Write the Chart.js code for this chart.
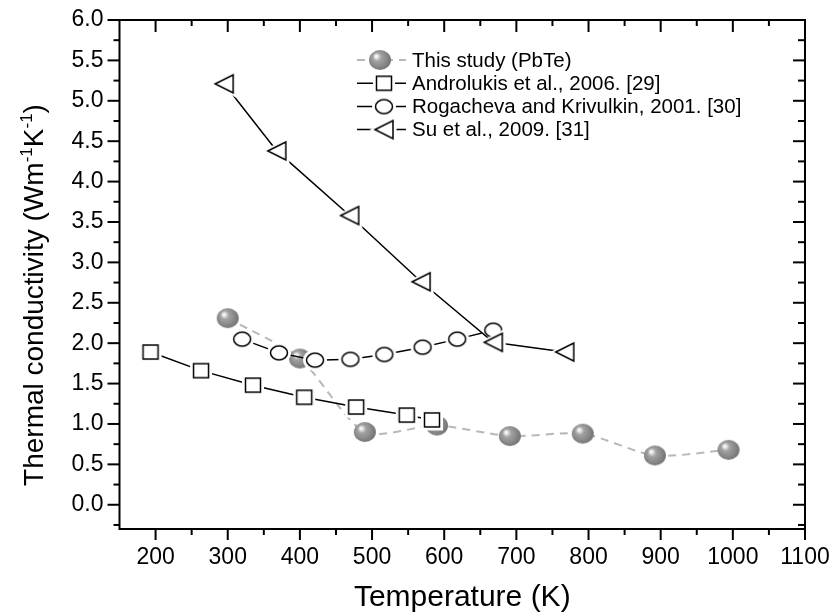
<!DOCTYPE html>
<html><head><meta charset="utf-8">
<script src="https://cdn.jsdelivr.net/npm/chart.js@4.4.1/dist/chart.umd.min.js"></script>
<style>html,body{margin:0;padding:0;background:#fff;}#wrap{width:837px;height:615px;}</style>
</head><body><div id="wrap"><canvas id="c" width="837" height="615"></canvas></div>
<script>
// ---- data ----
const seriesNames = ['This study (PbTe)', 'Androlukis et al., 2006. [29]', 'Rogacheva and Krivulkin, 2001. [30]', 'Su et al., 2009. [31]'];
const studyT = [300, 400, 490, 590, 691, 792, 892, 994];
const studyK = [2.31, 1.81, 0.90, 0.98, 0.85, 0.88, 0.61, 0.68];
const androT = [193, 263, 335, 406, 478, 548, 583];
const androK = [1.89, 1.66, 1.48, 1.33, 1.21, 1.11, 1.05];
const rogT = [320, 371, 421, 470, 517, 570, 618, 668];
const rogK = [2.05, 1.88, 1.79, 1.80, 1.86, 1.95, 2.05, 2.16];
const suT = [295, 368, 469, 568, 668, 767];
const suK = [5.21, 4.38, 3.58, 2.76, 2.01, 1.89];
const xTicks = [200, 300, 400, 500, 600, 700, 800, 900, 1000, 1100];
const yTicks = [0.0, 0.5, 1.0, 1.5, 2.0, 2.5, 3.0, 3.5, 4.0, 4.5, 5.0, 5.5, 6.0];
const xTitle = 'Temperature (K)';
const yTitleParts = [['Thermal conductivity (Wm', false], ['-1', true], ['K', false], ['-1', true], [')', false]];

const FONT = "'Liberation Sans', Arial, sans-serif";

// ---- marker images ----
function mk(w, h) { const c = document.createElement('canvas'); c.width = w; c.height = h; return c; }
function shapePath(ctx, kind, cx, cy, grow) {
  ctx.beginPath();
  if (kind === 'square') { ctx.rect(cx - 7.5 - grow, cy - 7 - grow, 15 + 2 * grow, 14 + 2 * grow); }
  else if (kind === 'circle') { ctx.ellipse(cx, cy, 8.5 + grow, 7 + grow, 0, 0, Math.PI * 2); }
  else if (kind === 'tri') {
    ctx.moveTo(cx - 9 - grow * 1.6, cy);
    ctx.lineTo(cx + 9 + grow, cy - 9 - grow * 1.4);
    ctx.lineTo(cx + 9 + grow, cy + 9 + grow * 1.4);
    ctx.closePath();
  }
}
function makeOpen(kind) {
  const c = mk(34, 34), ctx = c.getContext('2d');
  ctx.fillStyle = '#fff';
  shapePath(ctx, kind, 17, 17, 3.5); ctx.fill();
  shapePath(ctx, kind, 17, 17, 0);
  ctx.fill(); ctx.lineWidth = 1.5; ctx.strokeStyle = '#000'; ctx.lineJoin = 'miter'; ctx.stroke();
  return c;
}
function makeSphere() {
  const c = mk(26, 24), ctx = c.getContext('2d');
  const cx = 13, cy = 12;
  const g = ctx.createRadialGradient(cx - 4, cy - 4, 0, cx - 1, cy - 1, 12);
  g.addColorStop(0, '#ffffff');
  g.addColorStop(0.12, '#ececec');
  g.addColorStop(0.35, '#a2a2a2');
  g.addColorStop(0.7, '#8a8a8a');
  g.addColorStop(1, '#727272');
  ctx.fillStyle = g;
  ctx.beginPath(); ctx.ellipse(cx, cy, 11, 10, 0, 0, Math.PI * 2); ctx.fill();
  return c;
}
const sphereImg = makeSphere(), squareImg = makeOpen('square'), circleImg = makeOpen('circle'), triImg = makeOpen('tri');

function pts(xs, ys) { return xs.map((x, i) => ({ x: x, y: ys[i] })); }

// ---- frame, minor ticks, titles, legend ----
const decor = {
  id: 'decor',
  afterDraw(chart) {
    const ctx = chart.ctx, a = chart.chartArea, xs = chart.scales.x, ys = chart.scales.y;
    ctx.save();
    ctx.strokeStyle = '#000'; ctx.lineWidth = 2;
    ctx.strokeRect(a.left, a.top, a.right - a.left, a.bottom - a.top);
    for (let v = 200; v <= 1100; v += 50) {
      const px = xs.getPixelForValue(v), major = v % 100 === 0;
      ctx.beginPath(); ctx.moveTo(px, a.bottom); ctx.lineTo(px, a.bottom + (major ? 11 : 6)); ctx.stroke();
      ctx.beginPath(); ctx.moveTo(px, a.top); ctx.lineTo(px, a.top + (major ? 12 : 6)); ctx.stroke();
    }
    for (let k = -1; k <= 24; k++) {
      const v = k * 0.25, py = ys.getPixelForValue(v), major = k % 2 === 0;
      ctx.beginPath(); ctx.moveTo(a.left, py); ctx.lineTo(a.left - (major ? 12 : 6), py); ctx.stroke();
      ctx.beginPath(); ctx.moveTo(a.right, py); ctx.lineTo(a.right - (major ? 12 : 7), py); ctx.stroke();
    }
    ctx.fillStyle = '#000';
    ctx.font = '30px ' + FONT; ctx.textAlign = 'center'; ctx.textBaseline = 'alphabetic';
    ctx.fillText(xTitle, (a.left + a.right) / 2, 606);
    ctx.save();
    ctx.translate(43, 295); ctx.rotate(-Math.PI / 2);
    let total = 0;
    const widths = yTitleParts.map(p => { ctx.font = (p[1] ? '17px ' : '28px ') + FONT; const w = ctx.measureText(p[0]).width; total += w; return w; });
    let x0 = -total / 2;
    ctx.textAlign = 'left';
    yTitleParts.forEach((p, i) => { ctx.font = (p[1] ? '17px ' : '28px ') + FONT; ctx.fillText(p[0], x0, p[1] ? -11 : 0); x0 += widths[i]; });
    ctx.restore();
    const rows = [60, 83.3, 106.6, 129.6];
    const imgs = [sphereImg, squareImg, circleImg, triImg];
    ctx.font = '20.5px ' + FONT; ctx.textAlign = 'left'; ctx.textBaseline = 'middle';
    rows.forEach((y, i) => {
      ctx.save();
      if (i === 0) { ctx.strokeStyle = '#b8b8b8'; ctx.setLineDash([8, 6]); ctx.lineWidth = 2; }
      else { ctx.strokeStyle = '#000'; ctx.lineWidth = 1.5; }
      ctx.beginPath(); ctx.moveTo(357, y); ctx.lineTo(406, y); ctx.stroke();
      ctx.restore();
      const im = imgs[i], cx = i === 0 ? 380 : 384;
      ctx.drawImage(im, cx - im.width / 2, y - im.height / 2);
      ctx.fillStyle = '#000';
      ctx.fillText(seriesNames[i], 412, y + 1);
    });
    ctx.restore();
  }
};

new Chart(document.getElementById('c'), {
  type: 'scatter',
  data: {
    datasets: [
      { label: seriesNames[0], data: pts(studyT, studyK), showLine: true, borderColor: '#b8b8b8', borderWidth: 2, borderDash: [8, 6], tension: 0.25, pointStyle: sphereImg, pointRadius: 11, pointHoverRadius: 11, order: 4 },
      { label: seriesNames[1], data: pts(androT, androK), showLine: true, borderColor: '#000', borderWidth: 1.5, pointStyle: squareImg, pointRadius: 10, pointHoverRadius: 10, order: 3 },
      { label: seriesNames[2], data: pts(rogT, rogK), showLine: true, borderColor: '#000', borderWidth: 1.5, pointStyle: circleImg, pointRadius: 10, pointHoverRadius: 10, order: 2 },
      { label: seriesNames[3], data: pts(suT, suK), showLine: true, borderColor: '#000', borderWidth: 1.5, pointStyle: triImg, pointRadius: 10, pointHoverRadius: 10, order: 1 }
    ]
  },
  options: {
    responsive: false, animation: false, devicePixelRatio: 1,
    layout: { padding: { left: 0, right: 32, top: 20, bottom: 0 } },
    plugins: { legend: { display: false }, tooltip: { enabled: false } },
    scales: {
      x: {
        type: 'linear', position: 'bottom', min: 150, max: 1100,
        afterBuildTicks: s => { s.ticks = xTicks.map(v => ({ value: v })); },
        afterFit: s => { s.height = 86; },
        grid: { display: false, drawTicks: true, tickLength: 11 },
        border: { display: false },
        ticks: { color: '#000', font: { family: FONT, size: 23 }, padding: 4, maxRotation: 0, autoSkip: false, callback: v => String(v) }
      },
      y: {
        type: 'linear', position: 'left', min: -0.3, max: 6.0,
        afterBuildTicks: s => { s.ticks = yTicks.map(v => ({ value: v })); },
        afterFit: s => { s.width = 119.5; },
        grid: { display: false, drawTicks: true, tickLength: 12 },
        border: { display: false },
        ticks: { color: '#000', font: { family: FONT, size: 23 }, padding: 4, autoSkip: false, callback: v => Number(v).toFixed(1) }
      }
    }
  },
  plugins: [decor]
});
</script>
</body></html>
